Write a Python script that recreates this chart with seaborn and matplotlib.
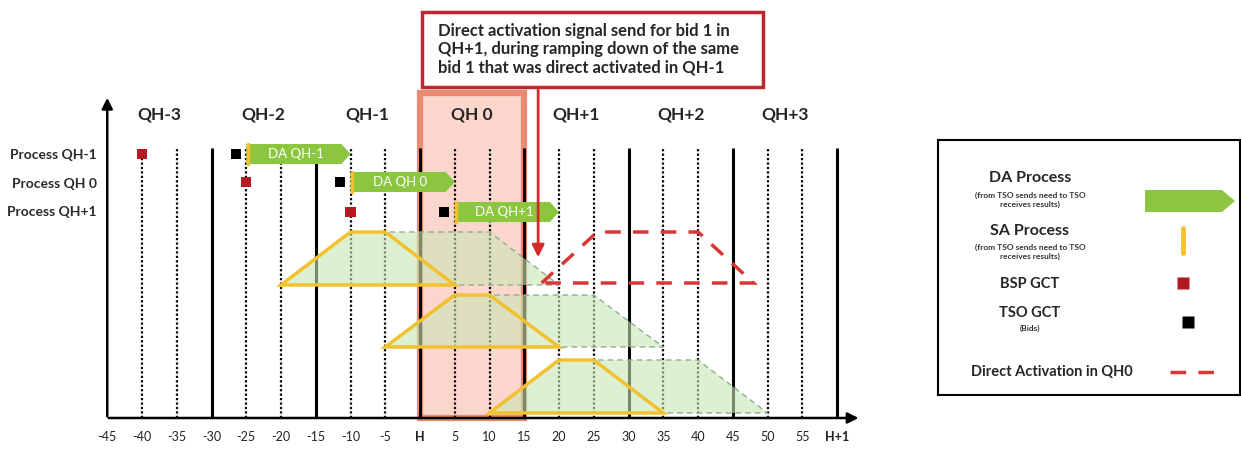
import pandas as pd
import seaborn as sns
import matplotlib.pyplot as plt
from matplotlib.patches import Polygon, Rectangle

# --- données du schéma (minutes autour de H, hauteur en unités arbitraires) ---
processes = ["Process QH-1", "Process QH 0", "Process QH+1"]
row_y = [264, 236, 206]
bsp_gct = [-40, -25, -10]
tso_gct = [-26.5, -11.5, 3.5]
da_start = [-25, -10, 5]
da_end = [-10, 5, 20]
da_labels = ["DA QH-1", "DA QH 0", "DA QH+1"]

qh_labels = ["QH-3", "QH-2", "QH-1", "QH 0", "QH+1", "QH+2", "QH+3"]
qh_centers = [-37.5, -22.5, -7.5, 7.5, 22.5, 37.5, 52.5]

minutes = [-45, -40, -35, -30, -25, -20, -15, -10, -5, 0, 5, 10,
           15, 20, 25, 30, 35, 40, 45, 50, 55, 60]
tick_labels = ["-45", "-40", "-35", "-30", "-25", "-20", "-15", "-10", "-5", "H", "5", "10",
               "15", "20", "25", "30", "35", "40", "45", "50", "55", "H+1"]
solid_lines = [-30, -15, 0, 15, 30, 45, 60]
dotted_lines = [-40, -35, -25, -20, -10, -5, 5, 10, 20, 25, 35, 40, 50, 55]

# SA : rampe montée / plateau / rampe descente
sa_x = [[-20, -10, -5, 5], [-5, 5, 10, 20], [10, 20, 25, 35]]
ramp_x = [[-20, -10, 10, 20], [-5, 5, 25, 35], [10, 20, 40, 50]]
ramp_base = [133, 71, 5]
ramp_top = [186, 123, 58]

# activation directe dans QH0
direct_x = [17.5, 25.5, 40, 48]
direct_base = 135
direct_top = 186

callout = ("Direct activation signal send for bid 1 in\n"
           "QH+1, during ramping down of the same\n"
           "bid 1 that was direct activated in QH-1")

# --- style ---
sns.set_theme(style="white")
plt.rcParams['font.family'] = ['Lato', 'DejaVu Sans']

GREEN = "#8cc63f"
LIGHT_GREEN = "#c9e6b4"
YELLOW = "#f2c12e"
DARK_RED = "#b3191e"
RED = "#d93636"

fig = plt.figure(figsize=(12.41, 4.51), dpi=100)
ax = fig.add_axes([0, 0, 1, 1])

# --- points GCT avec seaborn ---
gct = pd.DataFrame({
    "minute": bsp_gct + tso_gct,
    "y": row_y + row_y,
    "kind": ["BSP GCT"] * 3 + ["TSO GCT"] * 3,
})
sns.scatterplot(data=gct, x="minute", y="y", hue="kind",
                palette={"BSP GCT": DARK_RED, "TSO GCT": "black"},
                marker="s", s=55, edgecolor="none", legend=False, ax=ax, zorder=6)

# --- QH 0 en surbrillance ---
ax.add_patch(Rectangle((0, 0), 15, 325, facecolor="#fbd6cd", edgecolor="#e98b74",
                       lw=4.5, zorder=0.5))

# --- grille verticale ---
ax.vlines(solid_lines, 0, 270, color="black", lw=2.2, zorder=2)
ax.vlines(dotted_lines, 0, 270, color="black", lw=1.6, linestyles=(0, (1, 1)), zorder=2)

# --- zones vertes + trapèzes SA ---
for xs, xr, b, t in zip(sa_x, ramp_x, ramp_base, ramp_top):
    ys = [b, t, t, b]
    ax.add_patch(Polygon(list(zip(xr, ys)), closed=True, facecolor=LIGHT_GREEN,
                         alpha=0.6, edgecolor="none", zorder=3))
    ax.add_patch(Polygon(list(zip(xr, ys)), closed=True, fill=False,
                         edgecolor="#8fae8f", lw=1, ls=(0, (4, 3)), zorder=3.2))
    ax.add_patch(Polygon(list(zip(xs, ys)), closed=True, fill=False,
                         edgecolor=YELLOW, lw=2.5, zorder=4))

# --- activation directe ---
ax.add_patch(Polygon(list(zip(direct_x, [direct_base, direct_top, direct_top, direct_base])),
                     closed=True, fill=False, edgecolor=RED, lw=2.5,
                     ls=(0, (4.5, 3.5)), zorder=4))

# --- barres DA ---
tip = 1.3
half = 10
for x0, x1, y, lab in zip(da_start, da_end, row_y, da_labels):
    pts = [(x0, y - half), (x1 - tip, y - half), (x1, y), (x1 - tip, y + half), (x0, y + half)]
    ax.add_patch(Polygon(pts, closed=True, facecolor=GREEN, edgecolor="none", zorder=5))
    ax.plot([x0 + 0.2, x0 + 0.2], [y - half, y + half], color=YELLOW, lw=2.5, zorder=5.5)
    ax.text((x0 + x1) / 2 - 0.3, y, lab, color="white", fontsize=9.5,
            ha="center", va="center", zorder=6)

# --- libellés ---
for lab, y in zip(processes, [263, 234, 206]):
    ax.text(-46.5, y, lab, ha="right", va="center", fontsize=10,
            fontweight="bold", color="#2a2a2a")
for lab, x in zip(qh_labels, qh_centers):
    ax.text(x, 303, lab, ha="center", va="center", fontsize=12.5, fontweight="bold")
for m, lab in zip(minutes, tick_labels):
    ax.text(m, -19, lab, ha="center", va="center", fontsize=9, color="#222222",
            fontweight="bold" if lab.startswith("H") else "normal")

# --- axes fléchés ---
ax.annotate("", xy=(-45, 323), xytext=(-45, -1),
            arrowprops=dict(arrowstyle="-|>", color="black", lw=1.8, mutation_scale=16))
ax.annotate("", xy=(63.5, 0), xytext=(-45.2, 0),
            arrowprops=dict(arrowstyle="-|>", color="black", lw=1.8, mutation_scale=16),
            zorder=7)

# --- encadré explicatif ---
ax.add_patch(Rectangle((0.3, 331), 49.1, 75, facecolor="white", edgecolor="#c0272d",
                       lw=2.5, zorder=8))
ax.text(2.6, 369, callout, ha="left", va="center", fontsize=12, fontweight="bold",
        linespacing=1.18, zorder=9)
ax.annotate("", xy=(17, 158), xytext=(17, 331),
            arrowprops=dict(arrowstyle="-|>", color="#d42a2a", lw=2, mutation_scale=18),
            zorder=8)

ax.set_xlim(-420 / 6.95, (1241 - 420) / 6.95)
ax.set_ylim(-33, 418)
ax.axis("off")

# --- légende ---
lg = fig.add_axes([938 / 1241, (451 - 395) / 451, 302 / 1241, 255 / 451])
lg.set_xlim(938, 1240)
lg.set_ylim(395, 140)
lg.set_xticks([])
lg.set_yticks([])
for s in lg.spines.values():
    s.set_color("black")
    s.set_linewidth(1.5)

small = dict(ha="center", va="center", fontsize=6, fontweight="bold",
             color="#333333", linespacing=1.3)
lg.text(1030, 178, "DA Process", ha="center", va="center", fontsize=11.5, fontweight="bold")
lg.text(1030, 200, "(from TSO sends need to TSO\nreceives results)", **small)
lg.add_patch(Polygon([(1145, 190), (1222, 190), (1235, 201), (1222, 212), (1145, 212)],
                     closed=True, facecolor=GREEN, edgecolor="none"))

lg.text(1030, 231, "SA Process", ha="center", va="center", fontsize=11.5, fontweight="bold")
lg.text(1030, 252, "(from TSO sends need to TSO\nreceives results)", **small)
lg.plot([1183, 1183], [228, 253], color=YELLOW, lw=3.5)

lg.text(1030, 284, "BSP GCT", ha="center", va="center", fontsize=10.5, fontweight="bold")
lg.plot([1183], [283], marker="s", ms=8, color=DARK_RED, mec="none")

lg.text(1030, 313, "TSO GCT", ha="center", va="center", fontsize=10.5, fontweight="bold")
lg.text(1030, 328, "(Bids)", **small)
lg.plot([1188], [322], marker="s", ms=8, color="black", mec="none")

lg.text(1052, 372, "Direct Activation in QH0", ha="center", va="center",
        fontsize=10.5, fontweight="bold")
lg.plot([1170, 1216], [372, 372], color=RED, lw=2.5, ls=(0, (4.5, 3.5)))

fig.savefig("out.png", dpi=100)
